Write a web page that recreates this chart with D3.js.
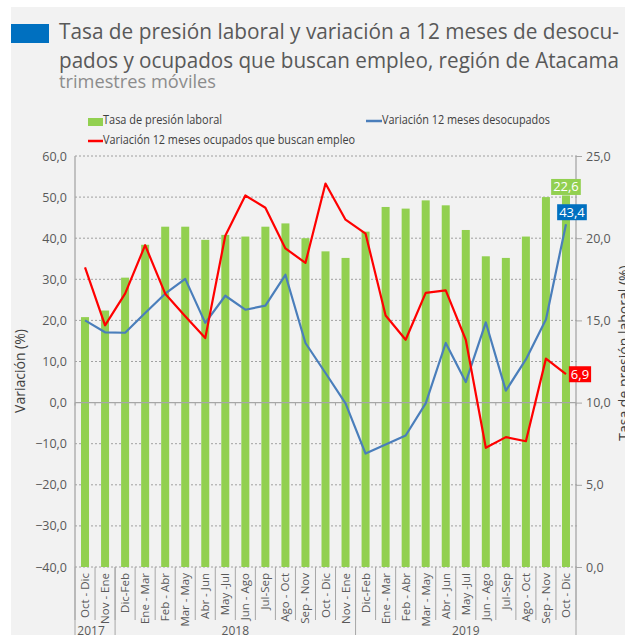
<!DOCTYPE html>
<html lang="es">
<head>
  <meta charset="UTF-8">
  <title>Tasa de presión laboral - Atacama</title>
  <script src="https://d3js.org/d3.v7.min.js"></script>
  <style>
    body { margin: 0; background: #fff; }
    text { font-family: "Open Sans", "DejaVu Sans", sans-serif; }
  </style>
</head>
<body>
  <div id="chart"></div>
  <script>
    // trimestres móviles
    const periodos = ["Oct - Dic", "Nov - Ene", "Dic-Feb", "Ene - Mar", "Feb - Abr", "Mar - May",
      "Abr - Jun", "May -Jul", "Jun - Ago", "Jul-Sep", "Ago - Oct", "Sep - Nov", "Oct - Dic",
      "Nov - Ene", "Dic-Feb", "Ene - Mar", "Feb - Abr", "Mar - May", "Abr - Jun", "May -Jul",
      "Jun - Ago", "Jul-Sep", "Ago - Oct", "Sep - Nov", "Oct - Dic"];
    const anios = ["2017", "2018", "2019"];
    const aniosCant = [2, 12, 11];

    // Tasa de presión laboral (eje derecho)
    const presion = [15.2, 15.6, 17.6, 19.6, 20.7, 20.7, 19.9, 20.2, 20.1, 20.7, 20.9, 20.0, 19.2,
      18.8, 20.4, 21.9, 21.8, 22.3, 22.0, 20.5, 18.9, 18.8, 20.1, 22.5, 22.6];
    // Variación 12 meses desocupados (eje izquierdo)
    const desocupados = [20.0, 17.1, 17.0, 21.8, 26.5, 30.1, 19.4, 26.0, 22.6, 23.6, 31.1, 14.5, 7.2,
      -0.2, -12.4, -10.2, -8.0, -0.2, 14.5, 5.0, 19.5, 2.9, 10.5, 20.2, 43.4];
    // Variación 12 meses ocupados que buscan empleo (eje izquierdo)
    const ocupados = [32.9, 18.8, 26.5, 38.3, 26.5, 21.0, 15.7, 40.6, 50.4, 47.4, 37.5, 34.0, 53.3,
      44.5, 41.1, 21.2, 15.3, 26.7, 27.3, 15.3, -11.0, -8.4, -9.4, 10.7, 6.9];

    const ticksIzq = [60, 50, 40, 30, 20, 10, 0, -10, -20, -30, -40];
    const ticksDer = [25, 20, 15, 10, 5, 0];

    const width = 625, height = 635;
    const fmt = v => d3.format(".1f")(v).replace(".", ",");
    const gris = "#595959";

    const svg = d3.select("#chart").append("svg")
      .attr("width", width)
      .attr("height", height);

    svg.append("rect")
      .attr("x", 11).attr("y", 7)
      .attr("width", width - 11).attr("height", height - 7)
      .attr("fill", "#f2f2f2");

    // titulo
    svg.append("rect")
      .attr("x", 11).attr("y", 24)
      .attr("width", 38).attr("height", 19)
      .attr("fill", "#0070c0");

    const titulo = [
      ["Tasa de presión laboral y variación a 12 meses de desocu-", 39, 560],
      ["pados y ocupados que buscan empleo, región de Atacama", 68, 560]
    ];
    titulo.forEach(t => {
      svg.append("text")
        .attr("x", 59).attr("y", t[1])
        .attr("font-size", 21.5)
        .attr("fill", gris)
        .attr("textLength", t[2])
        .attr("lengthAdjust", "spacingAndGlyphs")
        .text(t[0]);
    });
    svg.append("text")
      .attr("x", 59).attr("y", 88)
      .attr("font-size", 17.5)
      .attr("fill", "#8c8c8c")
      .attr("textLength", 157)
      .attr("lengthAdjust", "spacingAndGlyphs")
      .text("trimestres móviles");

    const x = d3.scaleBand()
      .domain(d3.range(periodos.length))
      .range([75, 576]);
    const yIzq = d3.scaleLinear().domain([-40, 60]).range([567, 156]);
    const yDer = d3.scaleLinear().domain([0, 25]).range([567, 156]);
    const cx = i => x(i) + x.bandwidth() / 2;

    // grilla
    svg.append("g")
      .selectAll("line")
      .data(ticksIzq.filter(d => d !== 0))
      .join("line")
        .attr("x1", 75).attr("x2", 577)
        .attr("y1", d => yIzq(d)).attr("y2", d => yIzq(d))
        .attr("stroke", "#8c8c8c")
        .attr("stroke-width", 0.8)
        .attr("stroke-dasharray", "2,2");

    // barras
    const bw = 8;
    svg.append("g")
      .selectAll("rect")
      .data(presion)
      .join("rect")
        .attr("x", (d, i) => cx(i) - bw / 2)
        .attr("y", d => yDer(d))
        .attr("width", bw)
        .attr("height", d => yDer(0) - yDer(d))
        .attr("fill", "#92d050");

    // eje 0
    svg.append("line")
      .attr("x1", 75).attr("x2", 576)
      .attr("y1", yIzq(0)).attr("y2", yIzq(0))
      .attr("stroke", "#a6a6a6").attr("stroke-width", 1.3);
    svg.append("g")
      .selectAll("line")
      .data(d3.range(periodos.length + 1))
      .join("line")
        .attr("x1", i => 75 + i * x.step()).attr("x2", i => 75 + i * x.step())
        .attr("y1", yIzq(0)).attr("y2", yIzq(0) + 3)
        .attr("stroke", "#a6a6a6");

    // lineas
    const linea = d3.line()
      .x((d, i) => cx(i))
      .y(d => yIzq(d));
    svg.append("path")
      .datum(desocupados)
      .attr("d", linea)
      .attr("fill", "none")
      .attr("stroke", "#4a7ebb")
      .attr("stroke-width", 2.2)
      .attr("stroke-linejoin", "round");
    svg.append("path")
      .datum(ocupados)
      .attr("d", linea)
      .attr("fill", "none")
      .attr("stroke", "#ff0000")
      .attr("stroke-width", 2.2)
      .attr("stroke-linejoin", "round");

    // ejes verticales
    svg.append("line")
      .attr("x1", 75).attr("x2", 75).attr("y1", 156).attr("y2", 567)
      .attr("stroke", "#a6a6a6").attr("stroke-width", 1.3);
    svg.append("line")
      .attr("x1", 576).attr("x2", 576).attr("y1", 156).attr("y2", 567)
      .attr("stroke", "#a6a6a6").attr("stroke-width", 1.3);

    const ejeIzq = svg.append("g")
      .attr("transform", "translate(75,0)")
      .call(d3.axisLeft(yIzq).tickValues(ticksIzq).tickFormat(fmt).tickSize(0).tickPadding(8));
    ejeIzq.select(".domain").remove();
    ejeIzq.selectAll("text")
      .attr("font-family", "'Open Sans', sans-serif")
      .attr("font-size", 12.5)
      .attr("fill", gris);

    const ejeDer = svg.append("g")
      .attr("transform", "translate(576,0)")
      .call(d3.axisRight(yDer).tickValues(ticksDer).tickFormat(fmt).tickSize(6).tickPadding(4));
    ejeDer.select(".domain").remove();
    ejeDer.selectAll("line").attr("stroke", "#a6a6a6");
    ejeDer.selectAll("text")
      .attr("font-family", "'Open Sans', sans-serif")
      .attr("font-size", 12.5)
      .attr("fill", gris);

    // titulos de ejes
    svg.append("text")
      .attr("transform", "translate(25,371) rotate(-90)")
      .attr("text-anchor", "middle")
      .attr("font-size", 14)
      .attr("fill", "#404040")
      .text("Variación (%)");
    svg.append("text")
      .attr("transform", "translate(629,353) rotate(-90)")
      .attr("text-anchor", "middle")
      .attr("font-size", 14)
      .attr("fill", "#404040")
      .text("Tasa de presión laboral (%)");

    // categorias
    const cat = svg.append("g");
    cat.selectAll("line.sep")
      .data(d3.range(periodos.length + 1))
      .join("line")
        .attr("class", "sep")
        .attr("x1", i => 75 + i * x.step()).attr("x2", i => 75 + i * x.step())
        .attr("y1", 567).attr("y2", 620)
        .attr("stroke", "#a6a6a6");
    cat.selectAll("text")
      .data(periodos)
      .join("text")
        .attr("transform", (d, i) => `translate(${cx(i) + 4},573) rotate(-90)`)
        .attr("text-anchor", "end")
        .attr("font-size", 11.5)
        .attr("fill", gris)
        .text(d => d);

    let acum = 0;
    anios.forEach((a, j) => {
      const ini = 75 + acum * x.step();
      acum += aniosCant[j];
      const fin = 75 + acum * x.step();
      svg.append("line")
        .attr("x1", fin).attr("x2", fin).attr("y1", 567).attr("y2", 635)
        .attr("stroke", "#a6a6a6");
      if (j === 0) {
        svg.append("line")
          .attr("x1", ini).attr("x2", ini).attr("y1", 567).attr("y2", 635)
          .attr("stroke", "#a6a6a6");
      }
      svg.append("text")
        .attr("x", (ini + fin) / 2 - (j === 0 ? 4 : 0)).attr("y", 635)
        .attr("text-anchor", "middle")
        .attr("font-size", 12)
        .attr("fill", gris)
        .text(a);
    });

    // etiquetas de datos
    const n = periodos.length - 1;
    function etiqueta(xc, yc, txt, color) {
      const g = svg.append("g");
      const t = g.append("text")
        .attr("x", xc).attr("y", yc + 4.5)
        .attr("text-anchor", "middle")
        .attr("font-size", 13)
        .attr("fill", "#fff")
        .text(txt);
      const w = t.node().getComputedTextLength() + 4;
      g.insert("rect", "text")
        .attr("x", xc - w / 2).attr("y", yc - 8)
        .attr("width", w).attr("height", 16)
        .attr("fill", color);
    }
    etiqueta(cx(n), yDer(presion[n]) - 8.5, fmt(presion[n]), "#92d050");
    etiqueta(cx(n) + 6, yIzq(desocupados[n]) - 12, fmt(desocupados[n]), "#0070c0");
    etiqueta(cx(n) + 14, yIzq(ocupados[n]), fmt(ocupados[n]), "#ff0000");

    // leyenda
    const ley = svg.append("g")
      .attr("font-size", 12)
      .attr("fill", "#404040");
    ley.append("rect").attr("x", 88).attr("y", 118).attr("width", 15).attr("height", 8).attr("fill", "#92d050");
    ley.append("text").attr("x", 103).attr("y", 124)
      .attr("textLength", 119).attr("lengthAdjust", "spacingAndGlyphs")
      .text("Tasa de presión laboral");
    ley.append("line").attr("x1", 366).attr("x2", 382).attr("y1", 121).attr("y2", 121)
      .attr("stroke", "#4a7ebb").attr("stroke-width", 2.5);
    ley.append("text").attr("x", 382).attr("y", 124)
      .attr("textLength", 168).attr("lengthAdjust", "spacingAndGlyphs")
      .text("Variación 12 meses desocupados");
    ley.append("line").attr("x1", 88).attr("x2", 103).attr("y1", 141).attr("y2", 141)
      .attr("stroke", "#ff0000").attr("stroke-width", 2.5);
    ley.append("text").attr("x", 103).attr("y", 144)
      .attr("textLength", 252).attr("lengthAdjust", "spacingAndGlyphs")
      .text("Variación 12 meses ocupados que buscan empleo");
  </script>
</body>
</html>
